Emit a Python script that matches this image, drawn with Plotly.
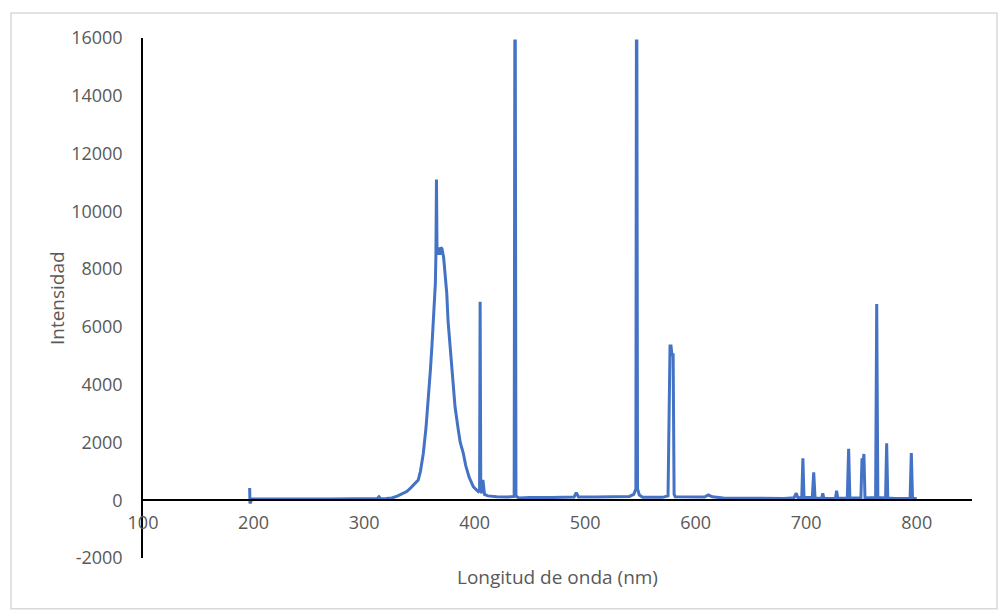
import plotly.graph_objects as go

# Spectrum
wavelength_nm = [
    196.5, 196.8, 198.5, 210, 230, 250, 270, 290, 305, 312, 313.5, 315, 320, 325, 330, 335,
    338.6, 342, 346, 349, 351, 353.6, 356, 358.1, 360, 361.5, 363, 364.5, 365, 365.5, 366,
    366.7, 367.5, 368.5, 369.5, 370.5, 372, 373.5, 374.8, 376, 377.8, 380, 382.3, 385, 387,
    389.8, 392, 395, 398.8, 401, 403.4, 404.5, 405, 405.6, 406.5, 407.5, 408.3, 409, 412,
    420, 430, 435.8, 436.4, 436.8, 437.4, 440, 450, 460, 470, 480, 490, 492, 494, 510, 530,
    540, 544, 545.9, 546.4, 546.8, 547.4, 549, 552, 560, 570, 575, 576.8, 577.7, 578.6,
    579.6, 580.5, 581.5, 590, 600, 608, 611.5, 615, 625, 640, 660, 680, 689, 691, 692.5,
    696, 697, 698, 705.5, 706.8, 708, 714, 715, 716, 726.5, 727.5, 728.5, 737.2, 738.4,
    739.5, 749.5, 750.5, 751.3, 752.2, 753.2, 762.8, 763.8, 764.8, 771.8, 772.8, 773.8, 780,
    794, 795.1, 796.2, 800,
]
intensidad = [
    420, -110, 40, 45, 40, 45, 40, 45, 50, 60, 120, 55, 60, 80, 140, 220,
    300, 420, 560, 700, 1000, 1620, 2500, 3470, 4500, 5400, 6500, 7500, 8500, 11100, 8600,
    8500, 8750, 8500, 8750, 8700, 8400, 7800, 7160, 6200, 5310, 4200, 3235, 2500, 2000,
    1620, 1200, 800, 470, 380, 300, 350, 6870, 300, 250, 700, 450, 200, 150,
    120, 110, 130, 15900, 15900, 150, 80, 90, 80, 90, 100, 110, 260, 110, 110, 120,
    130, 200, 400, 15900, 15900, 400, 180, 100, 110, 100, 150, 5340, 5340, 5000,
    5080, 200, 120, 110, 100, 110, 180, 120, 80, 70, 60, 60, 90, 240, 80,
    100, 1450, 100, 90, 965, 80, 60, 240, 60, 70, 330, 70, 80, 1780,
    80, 80, 1450, 1200, 1600, 80, 90, 6790, 90, 80, 1970, 80, 60,
    70, 1630, 70, 50,
]

x_ticks = [100, 200, 300, 400, 500, 600, 700, 800]
y_ticks = [-2000, 0, 2000, 4000, 6000, 8000, 10000, 12000, 14000, 16000]

FONT = "Open Sans"
GREY = "#595959"

fig = go.Figure()
fig.add_trace(go.Scatter(
    x=wavelength_nm, y=intensidad, mode="lines",
    line=dict(color="#4472C4", width=3),
    showlegend=False, hoverinfo="x+y",
))

fig.update_layout(
    width=1000, height=611,
    margin=dict(l=143, r=28, t=38, b=53),
    paper_bgcolor="white", plot_bgcolor="white",
    font=dict(family=FONT, color=GREY, size=18),
    xaxis=dict(
        range=[100, 850], tickvals=x_ticks, ticktext=[str(v) for v in x_ticks],
        showgrid=False, zeroline=False, showline=True, linecolor="black", linewidth=2,
        anchor="free", position=1/9, ticks="", ticklabelstandoff=6,
        tickfont=dict(family=FONT, color=GREY, size=18),
    ),
    yaxis=dict(
        range=[-2000, 16000], tickvals=y_ticks, ticktext=[str(v) for v in y_ticks],
        showgrid=False, zeroline=False, showline=True, linecolor="black", linewidth=1.5,
        ticks="", ticklabelstandoff=15,
        tickfont=dict(family=FONT, color=GREY, size=18),
    ),
    annotations=[
        dict(text="Intensidad", xref="paper", yref="paper", x=-0.1037, y=0.5,
             textangle=-90, showarrow=False, xanchor="center", yanchor="middle",
             font=dict(family=FONT, color=GREY, size=19)),
        dict(text="Longitud de onda (nm)", xref="paper", yref="paper", x=0.4994, y=-0.0365,
             showarrow=False, xanchor="center", yanchor="middle",
             font=dict(family=FONT, color=GREY, size=19)),
    ],
    shapes=[
        dict(type="rect", xref="paper", yref="paper",
             x0=-0.1592, x1=1.0302, y0=-0.0975, y1=1.048,
             line=dict(color="#d9d9d9", width=1.5), fillcolor="rgba(0,0,0,0)", layer="below"),
    ],
)

fig.write_html("out.html")
